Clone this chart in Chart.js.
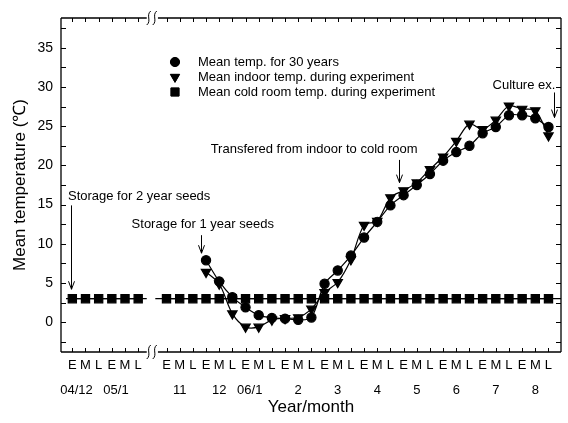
<!DOCTYPE html>
<html>
<head>
<meta charset="utf-8">
<script src="https://cdn.jsdelivr.net/npm/chart.js@4/dist/chart.umd.min.js"></script>
<style>
body{margin:0;background:#fff}
</style>
</head>
<body>
<canvas id="myChart" width="568" height="423"></canvas>
<script>
// ten-day periods (early, middle, late) and month labels
var periods = ['E', 'M', 'L'];
var monthsBefore = ['04/12', '05/1'];
var monthsAfter = ['11', '12', '06/1', '2', '3', '4', '5', '6', '7', '8'];

// values, one per ten-day period
var coldBefore = [3.0, 3.0, 3.0, 3.0, 3.0, 3.0];
var coldAfter = [3.0, 3.0, 3.0, 3.0, 3.0, 3.0, 3.0, 3.0, 3.0, 3.0,
                 3.0, 3.0, 3.0, 3.0, 3.0, 3.0, 3.0, 3.0, 3.0, 3.0,
                 3.0, 3.0, 3.0, 3.0, 3.0, 3.0, 3.0, 3.0, 3.0, 3.0];
var mean30 = [null, null, null, 7.9, 5.2, 3.2, 1.9, 0.9, 0.55, 0.45, 0.3, 0.6,
              4.9, 6.6, 8.5, 10.8, 12.8, 14.9, 16.2, 17.5, 18.9, 20.6, 21.7, 22.5,
              24.1, 24.9, 26.4, 26.4, 26.0, 24.9];
var indoor = [null, null, null, 6.4, 4.9, 1.1, -0.6, -0.6, 0.3, 0.5, 0.6, 1.7,
              3.8, 5.1, 8.0, 12.4, 12.9, 15.9, 16.8, 17.8, 19.5, 21.1, 23.1, 25.3,
              24.6, 25.8, 27.6, 27.2, 27.0, 23.8];
var yTickValues = [0, 5, 10, 15, 20, 25, 30, 35];

var afterStart = 7.15;   // slot where the second segment starts (after the axis break)
var breakFrom = 5.65, breakTo = 6.5;
var FONT = '"Liberation Sans", Arial, sans-serif';

function slotBefore(i){ return i; }
function slotAfter(i){ return afterStart + i; }

function pts(values, slotFn){
    var out = [];
    for (var i = 0; i < values.length; i++){
        if (values[i] !== null) out.push({x: slotFn(i), y: values[i]});
    }
    return out;
}

var allSlots = [];
for (var i = 0; i < coldBefore.length; i++) allSlots.push(slotBefore(i));
for (var j = 0; j < coldAfter.length; j++) allSlots.push(slotAfter(j));

var coldData = pts(coldBefore, slotBefore).concat([{x: breakTo, y: null}], pts(coldAfter, slotAfter));

var notes = [
    {text: 'Storage for 2 year seeds', tx: -0.33, ty: 16.1, ax: -0.1, ay1: 14.9, ay2: 4.2},
    {text: 'Storage for 1 year seeds', tx: 4.5, ty: 12.5, ax: 9.75, ay1: 11.1, ay2: 8.8},
    {text: 'Transfered from indoor to cold room', tx: 10.5, ty: 22.0, ax: 24.8, ay1: 20.7, ay2: 17.8},
    {text: 'Culture ex.', tx: 31.9, ty: 30.2, ax: 36.6, ay1: 29.3, ay2: 26.1}
];

function arrow(ctx, x, y1, y2){
    ctx.beginPath();
    ctx.moveTo(x, y1); ctx.lineTo(x, y2);
    ctx.moveTo(x - 3, y2 - 8); ctx.lineTo(x, y2); ctx.lineTo(x + 3, y2 - 8);
    ctx.stroke();
}

var frame = {
    id: 'frame',
    beforeDatasetsDraw: function(chart){
        var ctx = chart.ctx, a = chart.chartArea, xs = chart.scales.x, ys = chart.scales.y;
        var b1 = xs.getPixelForValue(breakFrom), b2 = xs.getPixelForValue(breakTo);
        ctx.save();
        ctx.strokeStyle = '#000';
        ctx.lineWidth = 1.3;
        ctx.beginPath();
        ctx.moveTo(a.left, a.top); ctx.lineTo(a.left, a.bottom);
        ctx.moveTo(a.right, a.top); ctx.lineTo(a.right, a.bottom);
        ctx.moveTo(a.left, a.top); ctx.lineTo(b1, a.top);
        ctx.moveTo(b2, a.top); ctx.lineTo(a.right, a.top);
        ctx.moveTo(a.left, a.bottom); ctx.lineTo(b1, a.bottom);
        ctx.moveTo(b2, a.bottom); ctx.lineTo(a.right, a.bottom);
        ctx.stroke();
        // break marks
        ctx.lineWidth = 1;
        [a.top, a.bottom].forEach(function(y){
            [b1 + 2, b1 + 8].forEach(function(x){
                ctx.beginPath();
                ctx.moveTo(x + 2, y - 7);
                ctx.bezierCurveTo(x - 3, y - 3, x + 3, y + 3, x - 2, y + 7);
                ctx.stroke();
            });
        });
        // inward ticks
        ctx.beginPath();
        allSlots.forEach(function(s){
            var px = Math.round(xs.getPixelForValue(s)) + 0.5;
            ctx.moveTo(px, a.bottom); ctx.lineTo(px, a.bottom - 4);
            ctx.moveTo(px, a.top); ctx.lineTo(px, a.top + 4);
        });
        for (var v = -2.5; v <= 37.5; v += 2.5){
            var py = Math.round(ys.getPixelForValue(v)) + 0.5;
            ctx.moveTo(a.left, py); ctx.lineTo(a.left + 5, py);
            ctx.moveTo(a.right, py); ctx.lineTo(a.right - 5, py);
        }
        ctx.stroke();
        // cold room line runs past the end points
        var yc = ys.getPixelForValue(coldBefore[0]);
        ctx.lineWidth = 1.2;
        ctx.beginPath();
        ctx.moveTo(a.left + 5, yc); ctx.lineTo(b1, yc);
        ctx.moveTo(xs.getPixelForValue(6.3), yc); ctx.lineTo(a.right, yc);
        ctx.stroke();
        ctx.restore();
    },
    afterDraw: function(chart){
        var ctx = chart.ctx, a = chart.chartArea, xs = chart.scales.x, ys = chart.scales.y;
        ctx.save();
        ctx.fillStyle = '#000';
        ctx.strokeStyle = '#000';
        // month labels
        ctx.font = '13px ' + FONT;
        ctx.textAlign = 'center';
        ctx.textBaseline = 'middle';
        function month(lbl, s){
            var shift = lbl.indexOf('/') >= 0 ? -9 : 0;
            ctx.fillText(lbl, xs.getPixelForValue(s) + shift, 390);
        }
        monthsBefore.forEach(function(m, k){ month(m, slotBefore(k * 3 + 1)); });
        monthsAfter.forEach(function(m, k){ month(m, slotAfter(k * 3 + 1)); });
        // axis titles
        ctx.font = '17px ' + FONT;
        ctx.fillText('Year/month', (a.left + a.right) / 2, 407);
        ctx.save();
        ctx.translate(20, (a.top + a.bottom) / 2);
        ctx.rotate(-Math.PI / 2);
        ctx.fillText('Mean temperature (\u2103)', 0, 0);
        ctx.restore();
        // legend
        ctx.font = '13px ' + FONT;
        ctx.textAlign = 'left';
        var rows = [62, 77, 92];
        chart.data.datasets.forEach(function(ds, k){
            Chart.helpers.drawPoint(ctx, {
                pointStyle: ds.pointStyle, radius: ds.pointRadius, rotation: ds.pointRotation || 0, borderWidth: 1
            }, 175, rows[k]);
            ctx.fillStyle = '#000';
            ctx.fill();
            ctx.fillText(ds.label, 198, rows[k]);
        });
        // notes with arrows
        ctx.lineWidth = 1;
        notes.forEach(function(n){
            ctx.fillText(n.text, xs.getPixelForValue(n.tx), ys.getPixelForValue(n.ty));
            arrow(ctx, Math.round(xs.getPixelForValue(n.ax)) + 0.5, ys.getPixelForValue(n.ay1), ys.getPixelForValue(n.ay2));
        });
        ctx.restore();
    }
};

var myChart = new Chart(document.getElementById('myChart'), {
    type: 'line',
    data: {
        datasets: [{
            label: 'Mean temp. for 30 years',
            data: pts(mean30, slotAfter),
            borderColor: '#000', backgroundColor: '#000', borderWidth: 1.2,
            pointStyle: 'circle', pointRadius: 4.6, tension: 0.3
        }, {
            label: 'Mean indoor temp. during experiment',
            data: pts(indoor, slotAfter),
            borderColor: '#000', backgroundColor: '#000', borderWidth: 1.2,
            pointStyle: 'triangle', pointRotation: 180, pointRadius: 5.4, tension: 0.3
        }, {
            label: 'Mean cold room temp. during experiment',
            data: coldData,
            borderColor: '#000', backgroundColor: '#000', borderWidth: 1.2,
            pointStyle: 'rect', pointRadius: 5.8, tension: 0
        }]
    },
    options: {
        responsive: false,
        animation: false,
        events: [],
        layout: {padding: {top: 18, right: 6, left: 0, bottom: 0}},
        plugins: {legend: {display: false}, tooltip: {enabled: false}},
        scales: {
            x: {
                type: 'linear', min: -0.86, max: 37.1,
                grid: {display: false, drawTicks: false},
                border: {display: false},
                afterBuildTicks: function(s){ s.ticks = allSlots.map(function(v){ return {value: v}; }); },
                afterFit: function(s){ s.height = 71; },
                ticks: {
                    autoSkip: false, maxRotation: 0, padding: 6, color: '#000',
                    font: {family: FONT, size: 13},
                    callback: function(v, idx){ return periods[idx % 3]; }
                }
            },
            y: {
                type: 'linear', min: -3.8, max: 38.8,
                grid: {display: false, drawTicks: false},
                border: {display: false},
                afterBuildTicks: function(s){ s.ticks = yTickValues.map(function(v){ return {value: v}; }); },
                afterFit: function(s){ s.width = 61; },
                ticks: {padding: 8, color: '#000', font: {family: FONT, size: 14}}
            }
        }
    },
    plugins: [frame]
});
</script>
</body>
</html>
